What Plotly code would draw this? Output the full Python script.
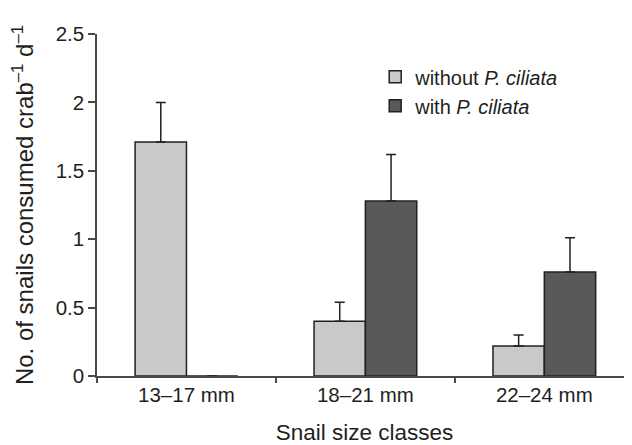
import plotly.graph_objects as go

categories = ["13–17 mm", "18–21 mm", "22–24 mm"]
without_vals = [1.71, 0.40, 0.22]
without_err = [0.29, 0.14, 0.08]
with_vals = [0.0, 1.28, 0.76]
with_err = [0.0, 0.34, 0.25]
series_names = ["without <i>P. ciliata</i>", "with <i>P. ciliata</i>"]
y_ticks = [0, 0.5, 1, 1.5, 2, 2.5]
y_ticklabels = ["0", "0.5", "1", "1.5", "2", "2.5"]

FONT = "Liberation Sans, Arial, Helvetica, sans-serif"
INK = "#231f20"
AX = "#4a4a4a"

fig = go.Figure()
fig.add_trace(go.Bar(
    x=categories, y=without_vals, name=series_names[0],
    marker=dict(color="#c8c9cb", line=dict(color=INK, width=1.5)),
    error_y=dict(type="data", array=without_err, symmetric=False,
                 arrayminus=[0, 0, 0], width=5, thickness=1.5, color=INK),
))
fig.add_trace(go.Bar(
    x=categories, y=with_vals, name=series_names[1],
    marker=dict(color="#58595b", line=dict(color=INK, width=1.5)),
    error_y=dict(type="data", array=with_err, symmetric=False,
                 arrayminus=[0, 0, 0], width=5, thickness=1.5, color=INK),
))

fig.update_layout(
    width=624, height=437,
    margin=dict(l=89, r=0, t=26, b=69, autoexpand=False),
    paper_bgcolor="white", plot_bgcolor="white",
    barmode="group", bargap=0.426, bargroupgap=0,
    font=dict(family=FONT, size=20, color=INK),
    showlegend=True,
    legend=dict(x=0.52, y=0.932, xanchor="left", yanchor="top",
                bgcolor="rgba(0,0,0,0)", font=dict(size=20, color=INK),
                itemwidth=30, tracegroupgap=0),
)
fig.update_xaxes(
    range=[-0.5, 2.49], showline=True, linecolor=AX, linewidth=1.5,
    ticks="outside", tickson="boundaries", ticklen=5, tickcolor=AX,
    tickwidth=1.5, showgrid=False, zeroline=False, automargin=False,
    title=dict(text="Snail size classes", standoff=21, font=dict(size=22.5)),
    tickfont=dict(size=20.5),
)
fig.update_yaxes(
    range=[0, 2.5], tickvals=y_ticks, ticktext=y_ticklabels,
    showline=True, linecolor=AX, linewidth=1.5,
    ticks="outside", ticklen=7, tickcolor=AX, tickwidth=1.5,
    showgrid=False, zeroline=False, automargin=False,
    title=dict(text="No. of snails consumed crab<sup>–1</sup> d<sup>–1</sup>",
               standoff=22, font=dict(size=24)),
    tickfont=dict(size=20.5),
)

fig.write_html("out.html")
